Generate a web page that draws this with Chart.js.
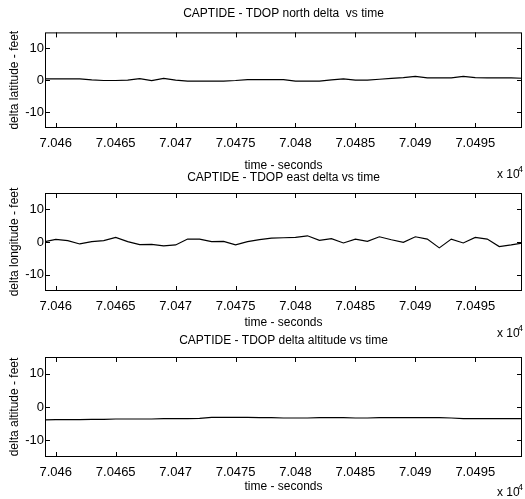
<!DOCTYPE html>
<html>
<head>
<meta charset="utf-8">
<script src="https://cdn.jsdelivr.net/npm/chart.js@4"></script>
<style>
  body { margin: 0; background: #fff; }
  #wrap { position: relative; width: 525px; height: 499px; overflow: hidden; }
  .panel { position: absolute; left: 0; width: 525px; }
</style>
</head>
<body>
<div id="wrap">
  <div class="panel" style="top:0;height:182px"><canvas id="northChart"></canvas></div>
  <div class="panel" style="top:163px;height:180px"><canvas id="eastChart"></canvas></div>
  <div class="panel" style="top:325px;height:174px"><canvas id="altChart"></canvas></div>
</div>
<script>
// time samples (seconds) and the three position deltas (feet)
const times = [70459, 70460, 70461, 70462, 70463, 70464, 70465, 70466, 70467, 70468,
  70469, 70470, 70471, 70472, 70473, 70474, 70475, 70476, 70477, 70478,
  70479, 70480, 70481, 70482, 70483, 70484, 70485, 70486, 70487, 70488,
  70489, 70490, 70491, 70492, 70493, 70494, 70495, 70496, 70497, 70498, 70499];
const northDelta = [0.4, 0.4, 0.4, 0.4, 0.1, -0.1, -0.1, 0.0, 0.5, -0.1,
  0.6, 0.0, -0.3, -0.3, -0.3, -0.3, -0.1, 0.2, 0.2, 0.2,
  0.2, -0.3, -0.3, -0.3, 0.1, 0.4, 0.0, 0.0, 0.3, 0.6,
  0.8, 1.2, 0.7, 0.7, 0.7, 1.2, 0.8, 0.7, 0.7, 0.7, 0.6];
const eastDelta = [0.0, 0.8, 0.4, -0.6, 0.1, 0.4, 1.4, 0.1, -0.8, -0.7,
  -1.2, -0.9, 0.9, 0.9, 0.1, 0.2, -0.9, 0.1, 0.7, 1.2,
  1.3, 1.4, 1.9, 0.5, 1.0, -0.3, 0.9, 0.2, 1.6, 0.7,
  -0.1, 1.6, 0.9, -1.8, 0.9, -0.3, 1.4, 0.9, -1.4, -0.9, -0.3];
const altDelta = [-3.9, -3.8, -3.8, -3.8, -3.7, -3.7, -3.6, -3.6, -3.6, -3.6,
  -3.5, -3.5, -3.5, -3.4, -3.1, -3.1, -3.1, -3.1, -3.2, -3.2,
  -3.3, -3.3, -3.3, -3.2, -3.2, -3.2, -3.3, -3.3, -3.2, -3.2,
  -3.2, -3.2, -3.2, -3.2, -3.3, -3.5, -3.5, -3.5, -3.5, -3.5, -3.5];

const timeTicks = [70460, 70465, 70470, 70475, 70480, 70485, 70490, 70495];
const feetTicks = [-10, 0, 10];
const timeMin = 70459.1, timeMax = 70498.9;
const feetMin = -15, feetMax = 15;

const FONT = 'Arial, "Liberation Sans", sans-serif';

// box round the axes, inward tick marks on all four sides, y tick labels
// hugging the left edge, and the x10^4 multiplier
const boxPlugin = {
  id: 'box',
  afterDraw(chart, args, opts) {
    const { ctx, chartArea: a, scales: { x, y } } = chart;
    ctx.save();
    ctx.strokeStyle = '#000';
    ctx.lineWidth = 1;
    ctx.strokeRect(a.left + 0.5, a.top + 0.5, a.right - a.left - 1, a.bottom - a.top - 1);
    ctx.beginPath();
    timeTicks.forEach(t => {
      const px = Math.round(x.getPixelForValue(t)) + 0.5;
      ctx.moveTo(px, a.bottom); ctx.lineTo(px, a.bottom - 5);
      ctx.moveTo(px, a.top); ctx.lineTo(px, a.top + 5);
    });
    feetTicks.forEach(v => {
      const py = Math.round(y.getPixelForValue(v)) + 0.5;
      ctx.moveTo(a.left, py); ctx.lineTo(a.left + 5, py);
      ctx.moveTo(a.right, py); ctx.lineTo(a.right - 5, py);
    });
    ctx.stroke();

    ctx.fillStyle = '#000';
    ctx.textBaseline = 'middle';
    ctx.textAlign = 'right';
    ctx.font = '13px ' + FONT;
    y.ticks.forEach(t => {
      ctx.fillText(String(t.value), a.left - 1, y.getPixelForValue(t.value));
    });

    ctx.textAlign = 'left';
    ctx.font = '12px ' + FONT;
    ctx.fillText('x 10', 497, opts.expY);
    ctx.font = '9px ' + FONT;
    ctx.fillText('4', 518, opts.expY - 5);
    ctx.restore();
  }
};

function makeChart(id, values, title, yLabel, lay) {
  return new Chart(document.getElementById(id), {
    type: 'line',
    data: {
      datasets: [{
        data: times.map((t, i) => ({ x: t, y: values[i] })),
        borderColor: '#000',
        borderWidth: 1.2,
        pointRadius: 0,
        tension: 0,
        fill: false
      }]
    },
    options: {
      responsive: true,
      maintainAspectRatio: false,
      animation: false,
      layout: { padding: { left: 0, right: 3, top: 0, bottom: 0 } },
      plugins: {
        legend: { display: false },
        tooltip: { enabled: false },
        title: {
          display: true,
          fullSize: false,
          text: title,
          color: '#000',
          font: { family: FONT, size: 12, weight: 'normal' },
          padding: { top: lay.titleTop, bottom: lay.titleBottom }
        },
        box: { expY: lay.expY }
      },
      scales: {
        x: {
          type: 'linear',
          min: timeMin,
          max: timeMax,
          grid: { display: false },
          border: { display: false },
          afterBuildTicks: s => { s.ticks = timeTicks.map(v => ({ value: v })); },
          afterFit: s => { s.height = lay.xHeight; },
          ticks: {
            autoSkip: false,
            maxRotation: 0,
            color: '#000',
            padding: lay.tickPad,
            font: { family: FONT, size: 13 },
            callback: v => String(v / 1e4)
          },
          title: {
            display: true,
            text: 'time - seconds',
            color: '#000',
            font: { family: FONT, size: 12 },
            padding: { top: 0, bottom: lay.xTitleBottom }
          }
        },
        y: {
          min: feetMin,
          max: feetMax,
          grid: { display: false },
          border: { display: false },
          afterBuildTicks: s => { s.ticks = feetTicks.map(v => ({ value: v })); },
          afterFit: s => { s.width = 45; },
          ticks: { display: false },
          title: {
            display: true,
            text: yLabel,
            color: '#000',
            font: { family: FONT, size: 12 },
            padding: { top: 7, bottom: 0 }
          }
        }
      }
    },
    plugins: [boxPlugin]
  });
}

makeChart('northChart', northDelta, 'CAPTIDE - TDOP north delta  vs time', 'delta latitude - feet',
  { titleTop: 6, titleBottom: 12, xHeight: 54, tickPad: 0, xTitleBottom: 9, expY: 175 });
makeChart('eastChart', eastDelta, 'CAPTIDE - TDOP east delta vs time', 'delta longitude - feet',
  { titleTop: 7, titleBottom: 8.6, xHeight: 52, tickPad: 0, xTitleBottom: 13, expY: 171 });
makeChart('altChart', altDelta, 'CAPTIDE - TDOP delta altitude vs time', 'delta altitude - feet',
  { titleTop: 8, titleBottom: 9.6, xHeight: 42, tickPad: 0, xTitleBottom: 5, expY: 168 });
</script>
</body>
</html>
